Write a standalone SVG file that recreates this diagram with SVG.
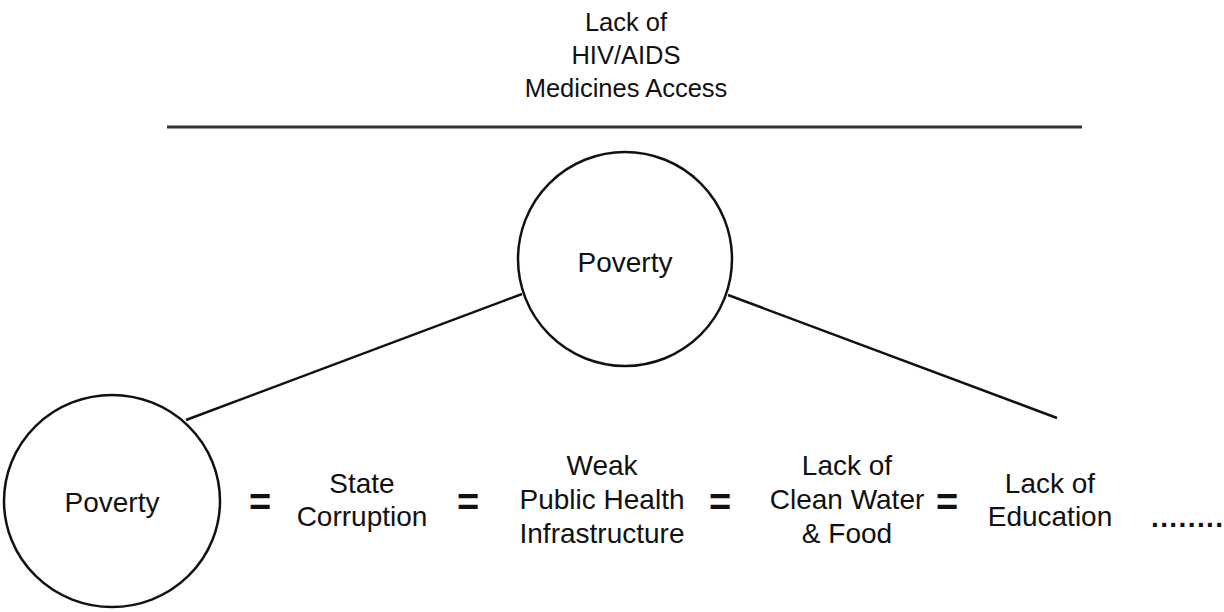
<svg xmlns="http://www.w3.org/2000/svg" width="1224" height="612" viewBox="0 0 1224 612">
<style>
text{font-family:"Liberation Sans",Arial,sans-serif;fill:#111;text-anchor:middle}
.t{font-size:25.5px}
.b{font-size:28px}
.eq{font-size:38px;font-weight:bold}
.c{fill:#fff;stroke:#111;stroke-width:2.5}
.ln{stroke:#111;stroke-width:2.5;fill:none}
</style>
<rect width="1224" height="612" fill="#fff"/>
<g id="title">
<text class="t" x="626" y="31">Lack of</text>
<text class="t" x="626" y="64">HIV/AIDS</text>
<text class="t" x="626" y="97">Medicines Access</text>
<line x1="167" y1="127" x2="1082" y2="127" stroke="#333" stroke-width="3"/>
</g>
<g id="connectors">
<line class="ln" x1="186" y1="420" x2="522" y2="294"/>
<line class="ln" x1="728" y1="295" x2="1057" y2="418"/>
</g>
<g id="poverty-top">
<circle class="c" cx="625" cy="259" r="107"/>
<text class="b" x="625" y="272">Poverty</text>
</g>
<g id="poverty-left">
<ellipse class="c" cx="112" cy="501" rx="108" ry="106"/>
<text class="b" x="112" y="512">Poverty</text>
</g>
<g id="eq1"><text class="eq" x="260" y="515">=</text></g>
<g id="state-corruption">
<text class="b" x="362" y="493">State</text>
<text class="b" x="362" y="526">Corruption</text>
</g>
<g id="eq2"><text class="eq" x="468" y="515">=</text></g>
<g id="weak-health">
<text class="b" x="602" y="475">Weak</text>
<text class="b" x="602" y="509">Public Health</text>
<text class="b" x="602" y="543">Infrastructure</text>
</g>
<g id="eq3"><text class="eq" x="720" y="515">=</text></g>
<g id="water-food">
<text class="b" x="847" y="475">Lack of</text>
<text class="b" x="847" y="509">Clean Water</text>
<text class="b" x="847" y="543">&amp; Food</text>
</g>
<g id="eq4"><text class="eq" x="947" y="515">=</text></g>
<g id="education">
<text class="b" x="1050" y="493">Lack of</text>
<text class="b" x="1050" y="526">Education</text>
</g>
<g id="more">
<text class="b" x="1151" y="527" style="text-anchor:start;letter-spacing:1.4px;font-weight:bold">........</text>
</g>
</svg>
